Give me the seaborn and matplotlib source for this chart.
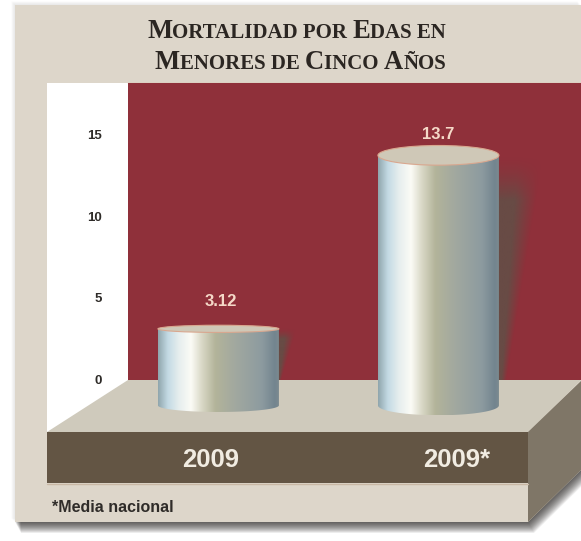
import numpy as np
import pandas as pd
import seaborn as sns
import matplotlib.pyplot as plt
from matplotlib.colors import LinearSegmentedColormap, to_rgb
from matplotlib.patches import Ellipse, Polygon, Rectangle, PathPatch
from matplotlib.path import Path
from matplotlib.transforms import ScaledTranslation

# datos
years = ['2009', '2009*']
values = [3.12, 13.7]
y_ticks = [0, 5, 10, 15]
title_lines = ['Mortalidad por Edas en', 'Menores de Cinco Años']
footnote = '*Media nacional'

NARROW = ['Liberation Sans Narrow', 'Liberation Sans', 'DejaVu Sans']
W, H = 581, 541
PX_PER_UNIT = 16.4

sns.set_style('white')
fig = plt.figure(figsize=(W / 100, H / 100), dpi=100, facecolor='white')

# capa de fondo en pixeles
bg = fig.add_axes([0, 0, 1, 1], zorder=0)
bg.set_xlim(0, W)
bg.set_ylim(H, 0)
bg.axis('off')

card = [(15, 5), (581, 5), (581, 470), (528, 522), (15, 522)]
# sombra de la tarjeta
for i in range(20, 0, -1):
    pts = [(x + i * 0.3, y + i * 0.55) for x, y in card]
    bg.add_patch(Polygon(pts, closed=True, fc='#1c1a18', ec='none', alpha=0.05))
for i in range(5, 0, -1):
    pts = [(x - i * 0.7, y - i * 0.7) for x, y in card]
    bg.add_patch(Polygon(pts, closed=True, fc='#777777', ec='none', alpha=0.03))
bg.add_patch(Polygon(card, closed=True, fc='#ddd6ca', ec='none'))
bg.add_patch(Rectangle((47, 83), 81, 350, fc='white', ec='none'))
bg.add_patch(Polygon([(128, 380), (581, 380), (528, 432), (47, 432)], closed=True, fc='#cfcabc', ec='none'))
bg.add_patch(Polygon([(528, 432), (581, 381), (581, 470), (528, 522)], closed=True, fc='#7f7667', ec='none'))
bg.add_patch(Rectangle((47, 432), 481, 51, fc='#635544', ec='none'))
bg.plot([47, 528], [483.5, 483.5], color='#c9b8a5', lw=1)
bg.plot([128, 581], [82.5, 82.5], color='#e0b9a4', lw=1)

# grafico principal
ax = fig.add_axes([128 / W, 1 - 380 / H, (W - 128) / W, 297 / H], zorder=2)
ax.set_facecolor('#8f303a')
df = pd.DataFrame({'year': years, 'value': values})
sns.barplot(data=df, x='year', y='value', width=0.55, color='#a3a99e', ax=ax, zorder=3)
ax.set_xlim(-0.411, 1.648)
ax.set_ylim(0, 297 / PX_PER_UNIT)
ax.set_xlabel('')
ax.set_ylabel('')
ax.set_yticks(y_ticks)
ax.set_yticklabels([str(t) for t in y_ticks], family=NARROW, weight='bold', fontsize=9.5, color='#2e2b28')
ax.tick_params(axis='y', length=0, pad=19)
ax.tick_params(axis='x', length=0, pad=49)
sns.despine(ax=ax, left=True, bottom=True)
for lab, dx in zip(ax.get_xticklabels(), [-8, 18]):
    lab.set_family(NARROW)
    lab.set_weight('bold')
    lab.set_fontsize(18.5)
    lab.set_color('#f1ece2')
    lab.set_transform(lab.get_transform() + ScaledTranslation(dx / 100, 0, fig.dpi_scale_trans))

# cilindros
metal = LinearSegmentedColormap.from_list('metal', [
    (0.00, '#90a6ad'), (0.08, '#c3dae4'), (0.17, '#e6eeee'), (0.27, '#fbfbf6'),
    (0.36, '#d9d8c6'), (0.47, '#b3b49a'), (0.62, '#a3a99f'), (0.85, '#8d9ba0'),
    (0.96, '#73858f'), (1.00, '#7d8b90')])
top_rise = [0.22, 0.6]     # semiejes de la tapa, en unidades de y
base_rise = [0.4, 0.6]
base_y = -1.55
shadow_w = [0.08, 0.2]
shadow_rgb = to_rgb('#57574a')
grad = np.linspace(0, 1, 256).reshape(1, -1)

for bar, tr, br, sw in zip(ax.patches, top_rise, base_rise, shadow_w):
    x0, w, h = bar.get_x(), bar.get_width(), bar.get_height()
    x1 = x0 + w
    bar.set_visible(False)

    # sombra difusa a la derecha
    ny, nx = 120, 60
    yy, xx = np.mgrid[0:1:ny * 1j, 0:1:nx * 1j]  # yy=0 arriba
    reach = 1 - 0.8 * yy
    alpha = np.clip((1 - xx / reach) * 1.8, 0, 1) * 0.7
    alpha *= np.clip(yy * 5, 0, 1) ** 1.5
    rgba = np.zeros((ny, nx, 4))
    rgba[..., :3] = shadow_rgb
    rgba[..., 3] = alpha
    ax.imshow(rgba, extent=[x1 - 0.01, x1 + sw, 0, h], aspect='auto', origin='upper',
              zorder=2, interpolation='bilinear')

    # cuerpo
    n = 60
    t = np.linspace(0, np.pi, n)
    cx, rx = x0 + w / 2, w / 2
    xs = np.r_[x0, cx - rx * np.cos(t), x1]
    ys = np.r_[h, base_y - br * np.sin(t), h]
    body = Path(np.column_stack([xs, ys]))
    im = ax.imshow(grad, extent=[x0, x1, base_y - br, h], cmap=metal, aspect='auto', zorder=4)
    clip = PathPatch(body, transform=ax.transData, fc='none', ec='none')
    ax.add_patch(clip)
    clip.set_clip_on(False)
    im.set_clip_box(fig.bbox)
    im.set_clip_path(clip)

    # tapa
    ax.add_patch(Ellipse((cx, h), w, 2 * tr, fc='#cfc8b7', ec='#d9a78f', lw=0.8, zorder=5, clip_on=False))

ax.set_xlim(-0.411, 1.648)
ax.set_ylim(0, 297 / PX_PER_UNIT)

# etiquetas de valor
for v, x, off in zip(values, [0.012, 1], [20, 15]):
    ax.annotate(str(v), (x, v), xytext=(0, off), textcoords='offset points', ha='center', va='center',
                family=NARROW, weight='bold', fontsize=12, color='#f5d9c8', zorder=6)

# titulo en versalitas
renderer = fig.canvas.get_renderer()


def small_caps(text, x_right, y):
    runs = []
    for ch in text:
        big = not ch.islower()
        if ch == ' ' and runs:
            big = runs[-1][1]
        if runs and runs[-1][1] == big:
            runs[-1][0] += ch
        else:
            runs.append([ch, big])
    arts = []
    for s, big in runs:
        a = bg.text(0, y, s.upper(), family='Liberation Serif', weight='bold', color='#2b2622',
                    fontsize=19.2 if big else 15, va='baseline', ha='left')
        arts.append(a)
    # ancho con espacios
    widths = []
    for a in arts:
        s = a.get_text()
        a.set_text(s.replace(' ', '\u00a0'))
        widths.append(a.get_window_extent(renderer).width)
    x = x_right - sum(widths)
    for a, wd in zip(arts, widths):
        a.set_x(x)
        x += wd


small_caps(title_lines[0], 446, 38)
small_caps(title_lines[1], 446, 69)

bg.text(52, 507, footnote, family=NARROW, weight='bold', fontsize=11.5, color='#2f2c29', va='center', ha='left')

fig.savefig('out.png', dpi=100)
